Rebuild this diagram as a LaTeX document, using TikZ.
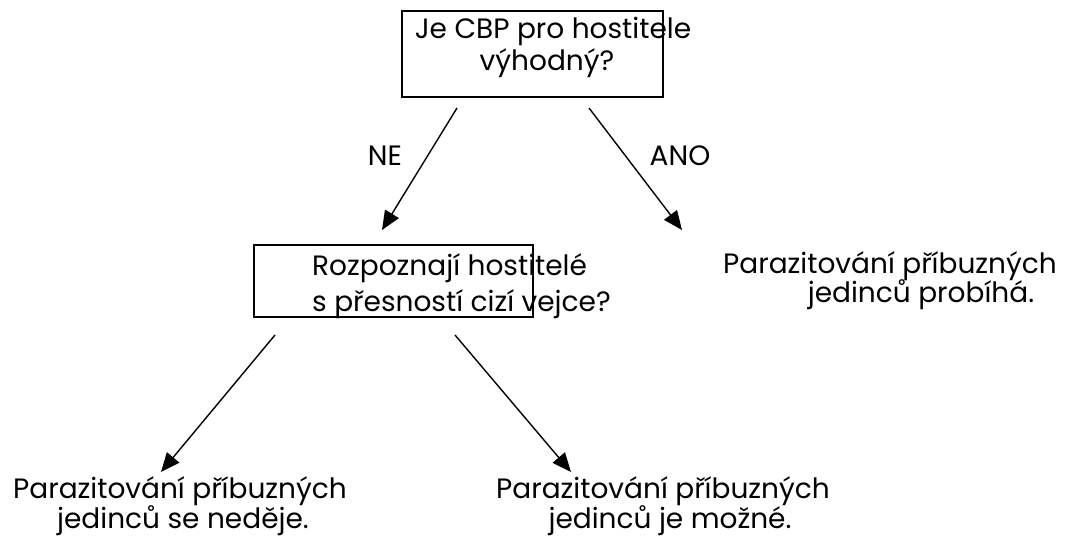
\documentclass[tikz,border=0pt]{standalone}
\usepackage{fontspec}
\setmainfont{Poppins}
\usetikzlibrary{arrows.meta}
\tikzset{
  box/.style={draw=black, line width=1.5pt, inner sep=0pt},
  txt/.style={anchor=base, inner sep=0pt, font=\fontsize{28}{33}\selectfont},
  txtw/.style={anchor=base west, inner sep=0pt, font=\fontsize{28}{33}\selectfont},
  arr/.style={draw=black, line width=1.4pt, -{Triangle[length=19pt,width=16pt]}}
}
\begin{document}
\begin{tikzpicture}[x=1pt,y=-1pt]
\useasboundingbox (0,0) rectangle (1068,550);
% boxes
\node[box, minimum width=261pt, minimum height=86pt] (q1) at (532.5,54) {};
\node[box, minimum width=279pt, minimum height=72pt] (q2) at (393.5,281) {};
% texts
\node[txt] (q1a) at (553,38) {Je CBP pro hostitele};
\node[txt] (q1b) at (547,70) {výhodný?};
\node[txt] (ne) at (385,165) {NE};
\node[txt] (ano) at (680,165) {ANO};
\node[txtw] (q2a) at (312,275) {Rozpoznají hostitelé};
\node[txtw] (q2b) at (312,311) {s přesností cizí vejce?};
\node[txt] (ra) at (890,273) {Parazitování příbuzných};
\node[txt] (rb) at (921,302) {jedinců probíhá.};
\node[txt] (la) at (180,498) {Parazitování příbuzných};
\node[txt] (lb) at (183,528) {jedinců se neděje.};
\node[txt] (ma) at (663,498) {Parazitování příbuzných};
\node[txt] (mb) at (670,528) {jedinců je možné.};
% connector ends
\coordinate (s1) at (457,108);
\coordinate (t1) at (382,230);
\coordinate (s2) at (589,108);
\coordinate (t2) at (682,230);
\coordinate (s3) at (275,335);
\coordinate (t3) at (161,472);
\coordinate (s4) at (455,335);
\coordinate (t4) at (571,472);
\draw[arr] (s1) -- (t1);
\draw[arr] (s2) -- (t2);
\draw[arr] (s3) -- (t3);
\draw[arr] (s4) -- (t4);
\end{tikzpicture}
\end{document}
